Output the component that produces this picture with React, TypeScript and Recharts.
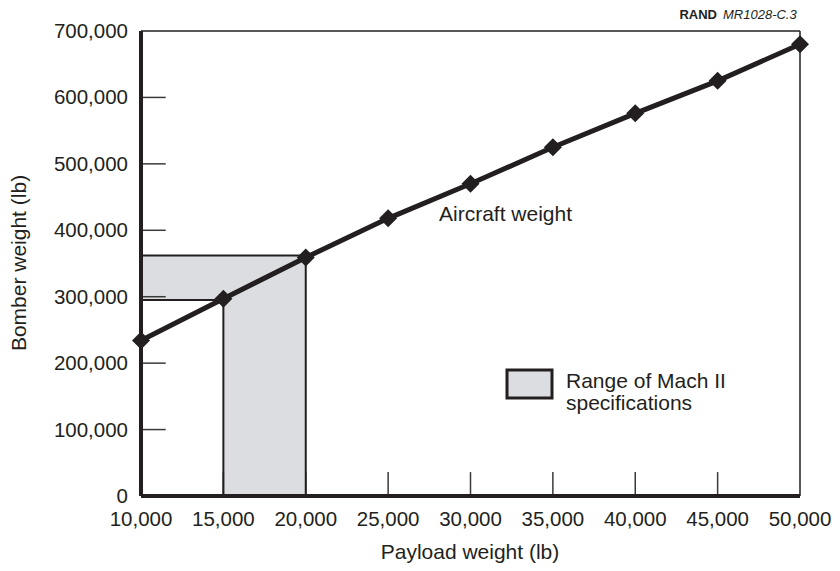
import React from 'react';
import { ComposedChart, Line, XAxis, YAxis, ReferenceArea, ReferenceLine } from 'recharts';

const payload = [10000, 15000, 20000, 25000, 30000, 35000, 40000, 45000, 50000];
const aircraftWeight = [234000, 297000, 359000, 418000, 470000, 525000, 576000, 625000, 680000];
const xTicks = [10000, 15000, 20000, 25000, 30000, 35000, 40000, 45000, 50000];
const yTicks = [0, 100000, 200000, 300000, 400000, 500000, 600000, 700000];

// Mach II specification range (T-shaped shaded region)
const specPayload = [10000, 15000, 20000];
const specWeight = [295000, 362000];

const INK = '#231f20';
const GREY = '#dcdde0';
const FONT = '"Liberation Sans", Arial, Helvetica, sans-serif';

const X_MIN = 10000, X_MAX = 50000, Y_MAX = 700000;
// inward tick marks, length expressed in axis units (~25px)
const X_TICK_LEN = 36000;
const Y_TICK_LEN = 1500;

const data = payload.map((p, i) => ({ payload: p, weight: aircraftWeight[i] }));
const fmt = (n: number) => n.toLocaleString('en-US');

const YTick = (props: any) => {
  const { x, y, payload: t } = props;
  return (
    <text x={x - 13} y={y + 7} textAnchor="end" fontSize={20.5} fill={INK} fontFamily={FONT}>
      {fmt(t.value)}
    </text>
  );
};

const XTick = (props: any) => {
  const { x, y, payload: t } = props;
  return (
    <text x={x} y={y + 30} textAnchor="middle" fontSize={20.5} fill={INK} fontFamily={FONT}>
      {fmt(t.value)}
    </text>
  );
};

const Diamond = (props: any) => {
  const { cx, cy, index } = props;
  const r = 9;
  return (
    <polygon
      key={index}
      points={`${cx},${cy - r} ${cx + r},${cy} ${cx},${cy + r} ${cx - r},${cy}`}
      fill={INK}
    />
  );
};

export default function App() {
  const [x0, x1, x2] = specPayload;
  const [lo, hi] = specWeight;
  const outline = { stroke: INK, strokeWidth: 2 };
  const tickStyle = { stroke: '#3a3a3a', strokeWidth: 1.5 };

  return (
    <div style={{ position: 'absolute', left: 0, top: 0, width: 840, height: 571, background: '#fff' }}>
      <ComposedChart width={840} height={571} data={data} margin={{ top: 31, right: 40, bottom: 0, left: 0 }}>
        <XAxis
          dataKey="payload" type="number" domain={[X_MIN, X_MAX]} ticks={xTicks} interval={0}
          height={75} tickSize={0} tickMargin={0} tickLine={false}
          axisLine={{ stroke: INK, strokeWidth: 4 }} tick={<XTick />}
        />
        <YAxis
          type="number" domain={[0, Y_MAX]} ticks={yTicks} interval={0}
          width={141} tickSize={0} tickMargin={0} tickLine={false}
          axisLine={{ stroke: INK, strokeWidth: 4 }} tick={<YTick />}
        />
        <ReferenceArea x1={x0} x2={x2} y1={lo} y2={hi} fill={GREY} fillOpacity={1} stroke="none" />
        <ReferenceArea x1={x1} x2={x2} y1={0} y2={hi} fill={GREY} fillOpacity={1} stroke="none" />
        {xTicks.slice(1, -1).map(t => (
          <ReferenceLine key={'xt' + t} segment={[{ x: t, y: 0 }, { x: t, y: X_TICK_LEN }]} {...tickStyle} />
        ))}
        {yTicks.slice(1, -1).map(t => (
          <ReferenceLine key={'yt' + t} segment={[{ x: X_MIN, y: t }, { x: X_MIN + Y_TICK_LEN, y: t }]} {...tickStyle} />
        ))}
        <ReferenceLine segment={[{ x: x0, y: hi }, { x: x2, y: hi }]} {...outline} />
        <ReferenceLine segment={[{ x: x2, y: hi }, { x: x2, y: 0 }]} {...outline} />
        <ReferenceLine segment={[{ x: x1, y: 0 }, { x: x1, y: lo }]} {...outline} />
        <ReferenceLine segment={[{ x: x1, y: lo }, { x: x0, y: lo }]} {...outline} />
        <ReferenceLine y={Y_MAX} stroke={INK} strokeWidth={1.5} />
        <ReferenceLine x={X_MAX} stroke={INK} strokeWidth={1.5} />
        <Line
          dataKey="weight" stroke={INK} strokeWidth={5} dot={<Diamond />} activeDot={false}
          isAnimationActive={false}
        />
      </ComposedChart>

      <svg width={840} height={571} style={{ position: 'absolute', left: 0, top: 0, pointerEvents: 'none' }}>
        <g fontFamily={FONT} fill={INK}>
          <text x={717} y={18.5} textAnchor="end" fontSize={13} fontWeight="bold">RAND</text>
          <text x={723} y={18.5} fontSize={13} fontStyle="italic">MR1028-C.3</text>
          <text x={439} y={221} fontSize={21}>Aircraft weight</text>
          <rect x={507} y={370} width={45} height={28} fill={GREY} stroke={INK} strokeWidth={3} />
          <text x={566} y={388} fontSize={21}>Range of Mach II</text>
          <text x={566} y={410} fontSize={21}>specifications</text>
          <text transform="translate(26,263) rotate(-90)" textAnchor="middle" fontSize={21}>Bomber weight (lb)</text>
          <text x={470} y={559} textAnchor="middle" fontSize={21}>Payload weight (lb)</text>
        </g>
      </svg>
    </div>
  );
}
